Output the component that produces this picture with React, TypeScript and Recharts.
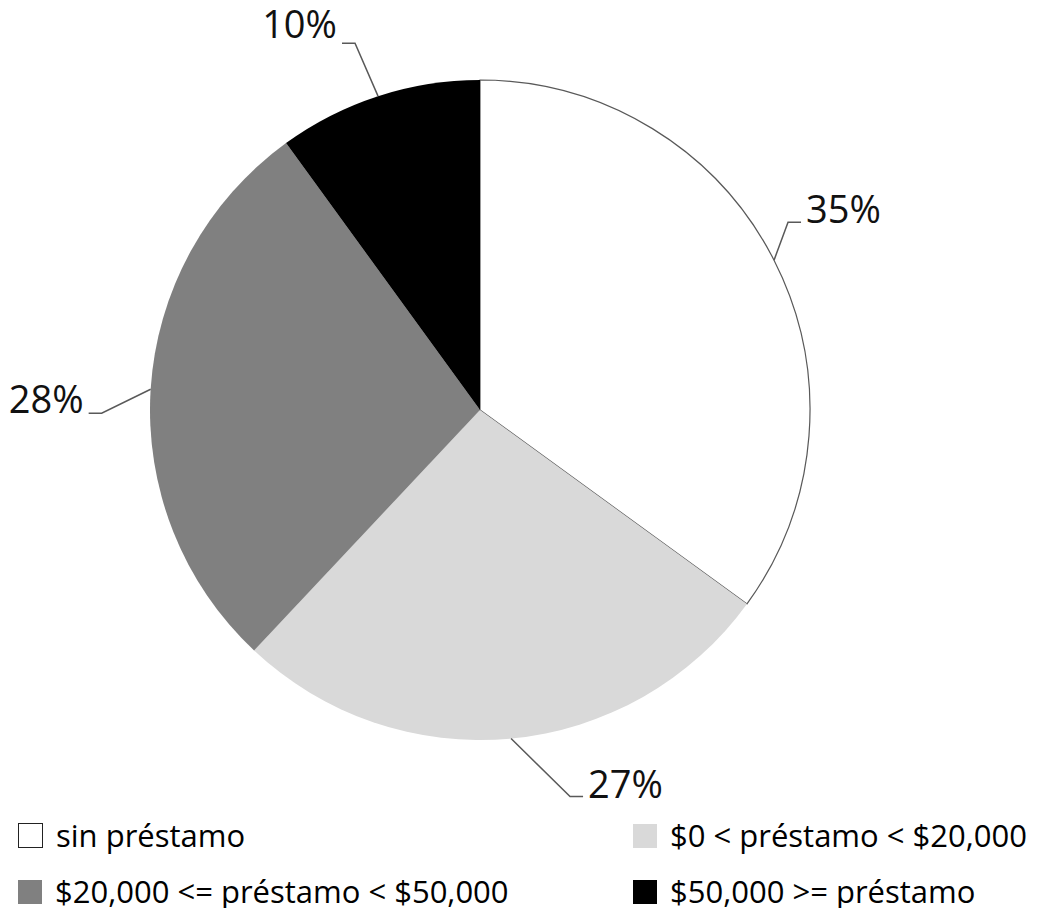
import React from "react";
import { PieChart, Pie, Cell, Legend } from "recharts";

const categories = [
  "sin préstamo",
  "$0 < préstamo < $20,000",
  "$20,000 <= préstamo < $50,000",
  "$50,000 >= préstamo",
];
const values = [35, 27, 28, 10];
const labels = ["35%", "27%", "28%", "10%"];

const colors = ["#ffffff", "#d9d9d9", "#808080", "#000000"];
const strokes = ["#595959", "none", "none", "none"];

// leader line elbow offsets from the slice edge (styling for label placement)
const labelOffsets = [
  { dx: 14, dy: -38, side: 1, tdy: 1 },
  { dx: 59, dy: 58, side: 1, tdy: 1 },
  { dx: -49, dy: 24, side: -1, tdy: 0 },
  { dx: -23, dy: -53, side: -1, tdy: -5 },
];

const data = categories.map((name, i) => ({ name, value: values[i], label: labels[i] }));

const RADIAN = Math.PI / 180;

const renderLabel = (props: any) => {
  const { cx, cy, midAngle, outerRadius, index } = props;
  const ex = cx + outerRadius * Math.cos(-midAngle * RADIAN);
  const ey = cy + outerRadius * Math.sin(-midAngle * RADIAN);
  const o = labelOffsets[index];
  const mx = ex + o.dx;
  const my = ey + o.dy;
  const hx = mx + o.side * 13;
  const tx = hx + o.side * 5;
  return (
    <g key={`lbl-${index}`}>
      <polyline
        points={`${ex},${ey} ${mx},${my} ${hx},${my}`}
        fill="none"
        stroke="#595959"
        strokeWidth={1.5}
      />
      <text
        x={tx}
        y={my + o.tdy}
        textAnchor={o.side > 0 ? "start" : "end"}
        fontFamily="'Open Sans', sans-serif"
        fontSize={38}
        fill="#111"
      >
        {data[index].label}
      </text>
    </g>
  );
};

const legendPos = [
  { left: 18, top: 823 },
  { left: 633, top: 823 },
  { left: 18, top: 879 },
  { left: 633, top: 879 },
];
const LEGEND_TOP = 823;

const renderLegend = () => (
  <div style={{ position: "relative", width: 1042, height: 85 }}>
    {data.map((d, i) => (
      <div
        key={d.name}
        style={{
          position: "absolute",
          left: legendPos[i].left,
          top: legendPos[i].top - LEGEND_TOP,
          display: "flex",
          alignItems: "center",
          height: 25,
          whiteSpace: "nowrap",
        }}
      >
        <div
          style={{
            width: i === 0 ? 23 : 24,
            height: i === 0 ? 23 : 24,
            background: colors[i],
            border: i === 0 ? "1px solid #222" : "none",
            marginRight: 13,
            flexShrink: 0,
          }}
        />
        <span
          style={{
            fontFamily: "'Open Sans', sans-serif",
            fontSize: 31,
            lineHeight: "31px",
            color: "#000",
          }}
        >
          {d.name}
        </span>
      </div>
    ))}
  </div>
);

export default function App() {
  return (
    <>
      <style>{`html,body{margin:0;padding:0;overflow:hidden;background:#fff}`}</style>
      <PieChart width={1042} height={908} margin={{ top: 0, right: 0, bottom: 0, left: 0 }}>
        <Pie
          data={data}
          dataKey="value"
          nameKey="name"
          cx={480}
          cy={410}
          outerRadius={330}
          startAngle={90}
          endAngle={-270}
          label={renderLabel}
          labelLine={false}
          isAnimationActive={false}
        >
          {data.map((d, i) => (
            <Cell key={d.name} fill={colors[i]} stroke={strokes[i]} strokeWidth={1.2} />
          ))}
        </Pie>
        <Legend
          content={renderLegend}
          wrapperStyle={{ position: "absolute", left: 0, top: LEGEND_TOP, width: 1042, height: 85 }}
        />
      </PieChart>
    </>
  );
}
